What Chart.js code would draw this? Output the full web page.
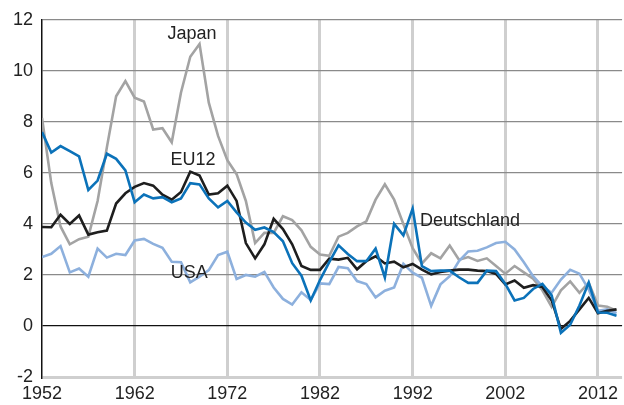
<!DOCTYPE html>
<html lang="de">
<head>
    <meta charset="UTF-8">
    <title>Japan, EU12, Deutschland, USA</title>
    <script src="https://cdn.jsdelivr.net/npm/chart.js"></script>
    <style>
        html, body { margin: 0; padding: 0; background: #fff; }
        #wrap { width: 624px; height: 405px; }
    </style>
</head>
<body>
<div id="wrap"><canvas id="chart"></canvas></div>
<script>
    // Jahre 1952 .. 2014
    const years = [];
    for (let y = 1952; y <= 2014; y++) years.push(y);

    const xTicks = [1952, 1962, 1972, 1982, 1992, 2002, 2012];
    const yTicks = [-2, 0, 2, 4, 6, 8, 10, 12];

    const japan = [
        8.15, 5.6, 3.9, 3.2, 3.4, 3.5, 4.9, 7.0, 9.0, 9.6,
        8.95, 8.8, 7.7, 7.75, 7.2, 9.15, 10.55, 11.05, 8.75, 7.45,
        6.5, 5.95, 4.9, 3.25, 3.65, 3.65, 4.3, 4.15, 3.75, 3.1,
        2.8, 2.75, 3.5, 3.65, 3.9, 4.1, 4.95, 5.55, 4.95, 4.0,
        3.05, 2.45, 2.85, 2.65, 3.15, 2.6, 2.7, 2.55, 2.65, 2.35,
        2.05, 2.35, 2.1, 1.85, 1.4, 0.75, 1.4, 1.75, 1.3, 1.7,
        0.8, 0.75, 0.6
    ];
    const eu12 = [
        3.88, 3.87, 4.36, 4.0, 4.33, 3.58, 3.67, 3.74, 4.8, 5.2,
        5.45, 5.6, 5.5, 5.15, 4.95, 5.25, 6.05, 5.9, 5.15, 5.2,
        5.5, 4.9, 3.25, 2.65, 3.2, 4.2, 3.8, 3.2, 2.35, 2.2,
        2.2, 2.64, 2.6, 2.67, 2.22, 2.54, 2.73, 2.45, 2.52, 2.3,
        2.43, 2.21, 2.02, 2.12, 2.17, 2.21, 2.21, 2.17, 2.15, 2.04,
        1.63, 1.78, 1.5, 1.6, 1.53, 1.0, -0.12, 0.2, 0.65, 1.1,
        0.5, 0.6, 0.65
    ];
    const deutschland = [
        7.6, 6.8, 7.05, 6.85, 6.65, 5.33, 5.7, 6.75, 6.55, 6.1,
        4.85, 5.15, 5.0, 5.05, 4.85, 5.0, 5.6, 5.55, 5.0, 4.65,
        4.9, 4.45, 4.05, 3.77, 3.86, 3.68, 3.32, 2.46, 1.97, 1.0,
        1.8, 2.5, 3.16, 2.82, 2.54, 2.54, 3.03, 1.9, 4.0, 3.55,
        4.6, 2.34, 2.15, 2.17, 2.17, 1.91, 1.69, 1.69, 2.17, 2.15,
        1.65, 1.0, 1.1, 1.45, 1.65, 1.2, -0.27, 0.05, 0.8, 1.7,
        0.53, 0.52, 0.4
    ];
    const usa = [
        2.7, 2.83, 3.13, 2.1, 2.25, 1.93, 3.03, 2.68, 2.83, 2.78,
        3.35, 3.41, 3.22, 3.06, 2.52, 2.5, 1.71, 1.93, 2.19, 2.78,
        2.91, 1.84, 2.0, 1.93, 2.12, 1.51, 1.06, 0.84, 1.32, 1.02,
        1.67, 1.64, 2.31, 2.26, 1.76, 1.64, 1.12, 1.38, 1.51, 2.44,
        2.09, 1.89, 0.79, 1.63, 1.95, 2.54, 2.92, 2.95, 3.08, 3.25,
        3.3, 3.0, 2.5, 1.95, 1.55, 1.3, 1.82, 2.2, 2.05, 1.43,
        0.6, 0.65, 0.5
    ];

    // Beschriftungen an den Kurven (Jahr, Wert, Ausrichtung)
    const seriesLabels = [
        { text: "Japan", x: 1968.2, y: 11.45, align: "center" },
        { text: "EU12", x: 1968.3, y: 6.5, align: "center" },
        { text: "Deutschland", x: 1992.8, y: 4.12, align: "left" },
        { text: "USA", x: 1967.9, y: 2.07, align: "center" }
    ];

    const FONT = "Liberation Sans, Arial, Helvetica, sans-serif";

    function toPoints(values) {
        return values.map((v, i) => ({ x: years[i], y: v }));
    }

    function line(label, values, color) {
        return {
            label: label,
            data: toPoints(values),
            borderColor: color,
            borderWidth: 2.6,
            pointRadius: 0,
            tension: 0,
            fill: false
        };
    }

    const labelPlugin = {
        id: "seriesLabels",
        afterDatasetsDraw(chart) {
            const ctx = chart.ctx;
            const xs = chart.scales.x, ys = chart.scales.y;
            ctx.save();
            ctx.font = "18px " + FONT;
            ctx.fillStyle = "#222";
            ctx.textBaseline = "middle";
            seriesLabels.forEach(l => {
                ctx.textAlign = l.align;
                ctx.fillText(l.text, xs.getPixelForValue(l.x), ys.getPixelForValue(l.y));
            });
            ctx.restore();
        }
    };

    new Chart(document.getElementById("chart"), {
        type: "line",
        data: {
            datasets: [
                line("Deutschland", deutschland, "#0b72b9"),
                line("EU12", eu12, "#1e1e1e"),
                line("USA", usa, "#8db0dd"),
                line("Japan", japan, "#a3a3a3")
            ]
        },
        options: {
            responsive: true,
            maintainAspectRatio: false,
            animation: false,
            layout: { padding: { top: 14, right: 0, left: 0, bottom: 0 } },
            plugins: {
                legend: { display: false },
                tooltip: { enabled: false }
            },
            scales: {
                x: {
                    type: "linear",
                    min: 1952,
                    max: 2014.6,
                    afterBuildTicks: s => { s.ticks = xTicks.map(v => ({ value: v })); },
                    afterFit: s => { s.height = 28; },
                    border: { display: false },
                    grid: {
                        drawTicks: false,
                        color: c => c.tick && c.tick.value === 1952 ? "rgba(0,0,0,0)" : "#cfcfcf",
                        lineWidth: 3
                    },
                    ticks: {
                        padding: 6,
                        color: "#222",
                        font: { family: FONT, size: 18 },
                        maxRotation: 0,
                        autoSkip: false,
                        callback: v => String(v)
                    }
                },
                y: {
                    min: -2,
                    max: 12,
                    afterBuildTicks: s => { s.ticks = yTicks.map(v => ({ value: v })); },
                    afterFit: s => { s.width = 42; },
                    border: { display: true, color: "#111", width: 1.5 },
                    grid: {
                        drawTicks: false,
                        color: c => {
                            if (!c.tick) return "#888";
                            if (c.tick.value === 0) return "#111";
                            if (c.tick.value === -2) return "#cfcfcf";
                            return "#8a8a8a";
                        },
                        lineWidth: c => (c.tick && c.tick.value === -2) ? 3 : 1.2
                    },
                    ticks: {
                        padding: 9,
                        color: "#222",
                        font: { family: FONT, size: 18 }
                    }
                }
            }
        },
        plugins: [labelPlugin]
    });
</script>
</body>
</html>
